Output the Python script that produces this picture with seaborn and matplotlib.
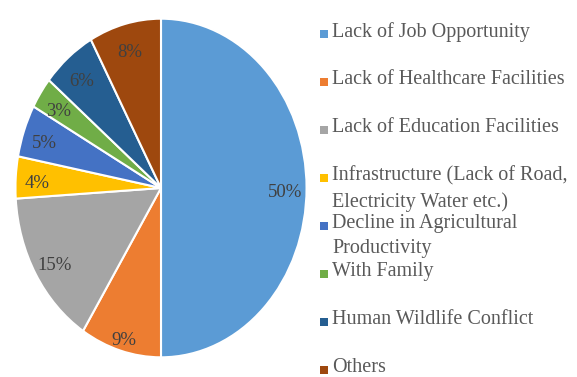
import matplotlib
matplotlib.use("Agg")
import matplotlib.pyplot as plt
import seaborn as sns

# data
categories = [
    "Lack of Job Opportunity",
    "Lack of Healthcare Facilities",
    "Lack of Education Facilities",
    "Infrastructure (Lack of Road,\nElectricity Water etc.)",
    "Decline in Agricultural\nProductivity",
    "With Family",
    "Human Wildlife Conflict",
    "Others",
]
shares = [50, 9, 15, 4, 5, 3, 6, 8]
colors = ["#5B9BD5", "#ED7D31", "#A5A5A5", "#FFC000",
          "#4472C4", "#70AD47", "#255E91", "#9E480E"]


def main():
    sns.set_theme(style="white")
    plt.rcParams["font.family"] = ["Liberation Serif", "DejaVu Serif"]

    W, H = 577, 377
    fig = plt.figure(figsize=(W / 100, H / 100), dpi=100)

    # pie area (slightly stretched vertically, as in the original)
    ax = fig.add_axes([14 / W, (H - 359) / H, 294 / W, 342 / H])
    wedges, texts, autotexts = ax.pie(
        shares, colors=colors, startangle=90, counterclock=False,
        autopct="%d%%", pctdistance=0.85,
        wedgeprops=dict(edgecolor="white", linewidth=1.5),
        textprops=dict(color="#404040", fontsize=13.5),
    )
    ax.set_aspect("auto")
    ax.set_xlim(-1.01, 1.01)
    ax.set_ylim(-1.01, 1.01)
    # nudge labels down a little (Excel best-fit placement)
    for k, t in enumerate(autotexts):
        x, y = t.get_position()
        if k == 1:
            x, y = x * 1.07, y * 1.07
        t.set_position((x, y - 0.025))

    # legend drawn Excel-style: fixed row pitch, wrapped text overflows
    lax = fig.add_axes([0, 0, 1, 1])
    lax.set_xlim(0, W)
    lax.set_ylim(H, 0)
    lax.axis("off")
    for i, (lab, col) in enumerate(zip(categories, colors)):
        y = 33 + 48 * i
        lax.scatter([324], [y + 1], marker="s", s=32, color=col, linewidths=0)
        lax.text(332, y - 11, lab, fontsize=14.5, color="#595959",
                 va="top", ha="left", linespacing=1.45)

    fig.savefig("out.png", dpi=100)


if __name__ == "__main__":
    main()
